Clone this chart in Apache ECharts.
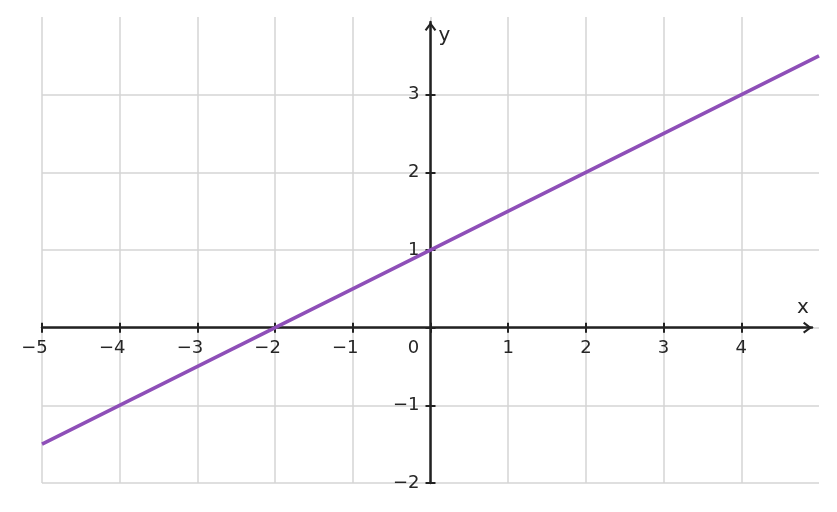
<!DOCTYPE html>
<html>
<head>
<meta charset="utf-8">
<script src="https://cdn.jsdelivr.net/npm/echarts@6/dist/echarts.min.js"></script>
<style>html,body{margin:0;padding:0;background:#fff}#c{width:837px;height:512px}</style>
</head>
<body>
<div id="c"></div>
<script>
// Data
const lineX = [-5, 5];
const lineY = [-1.5, 3.5];
const xRange = [-5, 5];
const yRange = [-2, 4];
const xTicks = [-5, -4, -3, -2, -1, 0, 1, 2, 3, 4];
const yTicks = [-2, -1, 0, 1, 2, 3];
const axisNames = ['x', 'y'];

const FONT = 'DejaVu Sans';
const TXT = '#262626';
const AX = '#222222';
const GRID = '#d4d4d4';
const MINUS = '\u2212';
const arrowPath = 'path://M6,0 L12,8 L10.2,9.3 L6,3.5 L1.8,9.3 L0,8 Z';

// layout: plot grid, and a slightly shorter grid for the arrowed axes
const G = {left: 42, right: 18, top: 17, bottom: 29};
const W = 837 - G.left - G.right;
const H = 512 - G.top - G.bottom;
const pxPerX = W / (xRange[1] - xRange[0]);
const pxPerY = H / (yRange[1] - yRange[0]);
const trimX = 7, trimY = 5;                 // arrow tips stop short of the plot edge
const G2 = {left: G.left, right: G.right + trimX, top: G.top + trimY, bottom: G.bottom};
const W2 = W - trimX, H2 = H - trimY;
const xMax2 = xRange[1] - trimX / pxPerX;
const yMax2 = yRange[1] - trimY / pxPerY;
const x0px = (0 - xRange[0]) * pxPerX;      // from left edge
const y0px = (0 - yRange[0]) * pxPerY;      // from bottom edge

const chart = echarts.init(document.getElementById('c'), null, {renderer: 'canvas'});

function xFmt(v) {
  if (v === 0) return '{z|0}';
  if (v < 0) return '{n|' + MINUS + Math.abs(v) + '}';
  return '{p|' + v + '}';
}
function yFmt(v) {
  if (v === 0) return '';
  if (v < 0) return MINUS + Math.abs(v);
  return String(v);
}
const FS = 18;
const richBase = {fontFamily: FONT, fontSize: FS, color: TXT};
const tick = (vals) => ({show: true, inside: false, length: 5, customValues: vals, lineStyle: {color: AX, width: 2}});
const axLine = {onZero: false, lineStyle: {color: AX, width: 2.5}, symbol: ['none', arrowPath], symbolSize: [13, 9], symbolOffset: [0, -4.5]};

chart.setOption({
  animation: false,
  backgroundColor: '#fff',
  grid: [
    Object.assign({containLabel: false}, G),
    Object.assign({containLabel: false}, G2)
  ],
  xAxis: [
    { // grid lines + data scale
      gridIndex: 0, type: 'value', min: xRange[0], max: xRange[1], interval: 1,
      axisLine: {show: false}, axisTick: {show: false}, axisLabel: {show: false},
      splitLine: {show: true, showMaxLine: false, lineStyle: {color: GRID, width: 1.5}}
    },
    { // visible x axis at y = 0
      gridIndex: 1, type: 'value', min: xRange[0], max: xMax2,
      position: 'bottom', offset: -y0px,
      name: axisNames[0], nameLocation: 'end', nameGap: -9, nameMoveOverlap: false,
      nameTextStyle: {fontFamily: FONT, fontSize: 20, color: TXT, align: 'center', verticalAlign: 'bottom', lineHeight: 40},
      axisLine: axLine,
      axisTick: tick(xTicks),
      axisLabel: {show: true, margin: 12, customValues: xTicks, formatter: xFmt,
        rich: {
          n: Object.assign({}, richBase, {padding: [0, 15, 0, 0]}),
          z: Object.assign({}, richBase, {padding: [0, 34, 0, 0]}),
          p: Object.assign({}, richBase)
        }},
      splitLine: {show: false}
    },
    { // upper half of the crossing ticks
      gridIndex: 1, type: 'value', min: xRange[0], max: xMax2,
      position: 'top', offset: -(H2 - y0px),
      axisLine: {show: false, onZero: false},
      axisTick: tick(xTicks),
      axisLabel: {show: false}, splitLine: {show: false}
    }
  ],
  yAxis: [
    {
      gridIndex: 0, type: 'value', min: yRange[0], max: yRange[1], interval: 1,
      axisLine: {show: false}, axisTick: {show: false}, axisLabel: {show: false},
      splitLine: {show: true, showMaxLine: false, lineStyle: {color: GRID, width: 1.5}}
    },
    { // visible y axis at x = 0
      gridIndex: 1, type: 'value', min: yRange[0], max: yMax2,
      position: 'left', offset: -x0px,
      name: axisNames[1], nameLocation: 'end', nameGap: -14, nameMoveOverlap: false,
      nameTextStyle: {fontFamily: FONT, fontSize: 20, color: TXT, align: 'left', verticalAlign: 'middle', padding: [0, 0, 0, 8]},
      axisLine: axLine,
      axisTick: tick(yTicks),
      axisLabel: {show: true, margin: 11, customValues: yTicks, formatter: yFmt,
        fontFamily: FONT, fontSize: FS, color: TXT},
      splitLine: {show: false}
    },
    {
      gridIndex: 1, type: 'value', min: yRange[0], max: yMax2,
      position: 'right', offset: -(W2 - x0px),
      axisLine: {show: false, onZero: false},
      axisTick: tick(yTicks),
      axisLabel: {show: false}, splitLine: {show: false}
    }
  ],
  series: [{
    type: 'line',
    xAxisIndex: 0, yAxisIndex: 0,
    data: lineX.map((x, i) => [x, lineY[i]]),
    showSymbol: false, symbol: 'none',
    lineStyle: {color: '#8e4fb8', width: 3.5},
    z: 1,
    silent: true
  }]
});
</script>
</body>
</html>
